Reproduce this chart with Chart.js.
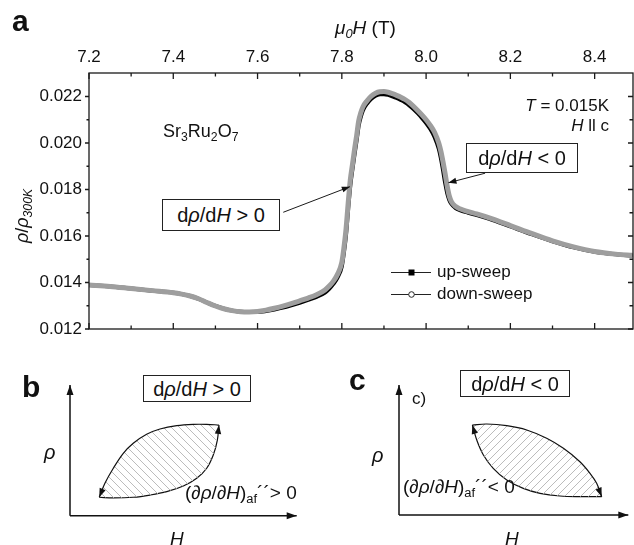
<!DOCTYPE html>
<html>
<head>
<meta charset="utf-8">
<script src="https://cdn.jsdelivr.net/npm/chart.js@4.4.0/dist/chart.umd.min.js"></script>
<style>
  body { margin: 0; background: #fff; }
  #wrap { position: relative; width: 634px; height: 545px; overflow: hidden;
          font-family: 'Liberation Sans', Arial, sans-serif; color: #111; }
  canvas { position: absolute; }
  .t { position: absolute; white-space: nowrap; line-height: 1; font-size: 17px; }
  .big { font-weight: bold; font-size: 30px; }
  .box { position: absolute; border: 1px solid #222; background: #fff; box-sizing: border-box;
         display: flex; align-items: center; justify-content: center; font-size: 20px; line-height: 1; }
  sub { font-size: 0.68em; vertical-align: -0.32em; line-height: 0; }
</style>
</head>
<body>
<div id="wrap">
  <canvas id="main" width="634" height="360" style="left:0;top:0"></canvas>
  <canvas id="panelB" width="317" height="185" style="left:0;top:360px"></canvas>
  <canvas id="panelC" width="317" height="185" style="left:317px;top:360px"></canvas>

  <div class="t big" style="left:12px;top:6px">a</div>
  <div class="t" style="left:335px;top:18px;font-size:19px"><i>μ</i><sub><i>0</i></sub><i>H</i> (T)</div>
  <div class="t" style="left:22px;top:216px;font-size:18px;transform:translate(-50%,-50%) rotate(-90deg)"><i>ρ</i>/<i>ρ</i><sub><i>300K</i></sub></div>
  <div class="t" style="left:163px;top:122px;font-size:18px">Sr<sub>3</sub>Ru<sub>2</sub>O<sub>7</sub></div>
  <div class="t" style="right:25px;top:97px"><i>T</i> = 0.015K</div>
  <div class="t" style="right:25px;top:117px"><i>H</i> ll c</div>
  <div class="box" style="left:466px;top:143px;width:112px;height:30px">d<i>ρ</i>/d<i>H</i>&nbsp;&lt; 0</div>
  <div class="box" style="left:162px;top:199px;width:118px;height:32px">d<i>ρ</i>/d<i>H</i>&nbsp;&gt; 0</div>
  <div class="t" style="left:437px;top:263px">up-sweep</div>
  <div class="t" style="left:437px;top:285px">down-sweep</div>

  <div class="t big" style="left:22px;top:372px">b</div>
  <div class="box" style="left:143px;top:375px;width:108px;height:27px">d<i>ρ</i>/d<i>H</i>&nbsp;&gt; 0</div>
  <div class="t" style="left:44px;top:442px;font-size:20px"><i>ρ</i></div>
  <div class="t" style="left:170px;top:529px;font-size:19px"><i>H</i></div>
  <div class="t" style="left:185px;top:483px;font-size:19px">(<i>∂ρ</i>/<i>∂H</i>)<sub>af</sub>´´&gt; 0</div>

  <div class="t big" style="left:349px;top:365px">c</div>
  <div class="t" style="left:412px;top:390px">c)</div>
  <div class="box" style="left:460px;top:370px;width:110px;height:27px">d<i>ρ</i>/d<i>H</i>&nbsp;&lt; 0</div>
  <div class="t" style="left:372px;top:445px;font-size:20px"><i>ρ</i></div>
  <div class="t" style="left:505px;top:529px;font-size:19px"><i>H</i></div>
  <div class="t" style="left:403px;top:477px;font-size:19px">(<i>∂ρ</i>/<i>∂H</i>)<sub>af</sub>´´&lt; 0</div>
</div>

<script>
// --- panel a data: field (T) and normalised resistivity ---
const downField = [7.20, 7.25, 7.30, 7.35, 7.40, 7.42, 7.44, 7.46, 7.48, 7.50,
  7.52, 7.54, 7.56, 7.58, 7.60, 7.62, 7.64, 7.66, 7.68, 7.70,
  7.72, 7.74, 7.76, 7.77, 7.78, 7.79, 7.80, 7.805, 7.81, 7.815,
  7.82, 7.825, 7.83, 7.835, 7.84, 7.845, 7.85, 7.86, 7.87, 7.88,
  7.89, 7.90, 7.91, 7.92, 7.93, 7.94, 7.95, 7.96, 7.97, 7.98,
  7.99, 8.00, 8.01, 8.02, 8.03, 8.035, 8.04, 8.045, 8.05, 8.055,
  8.06, 8.07, 8.08, 8.10, 8.12, 8.15, 8.20, 8.25, 8.30, 8.35,
  8.40, 8.45, 8.49];
const downRho = [0.01389, 0.01383, 0.01374, 0.01365, 0.01356, 0.01350, 0.01342, 0.01330, 0.01314, 0.01299,
  0.01287, 0.01279, 0.01274, 0.01273, 0.01275, 0.01281, 0.01289, 0.01298, 0.01309, 0.01321,
  0.01333, 0.01347, 0.01368, 0.01385, 0.01406, 0.01436, 0.01487, 0.01550, 0.01630, 0.01740,
  0.01840, 0.01905, 0.01970, 0.02030, 0.02095, 0.02130, 0.02155, 0.02182, 0.02202, 0.02214,
  0.02220, 0.02221, 0.02218, 0.02212, 0.02205, 0.02197, 0.02187, 0.02174, 0.02158, 0.02140,
  0.02121, 0.02100, 0.02076, 0.02046, 0.02000, 0.01965, 0.01920, 0.01870, 0.01815, 0.01772,
  0.01748, 0.01727, 0.01717, 0.01705, 0.01695, 0.01678, 0.01645, 0.01611, 0.01579, 0.01553,
  0.01533, 0.01522, 0.01517];
const upField = [7.20, 7.25, 7.30, 7.35, 7.40, 7.42, 7.44, 7.46, 7.48, 7.50,
  7.52, 7.54, 7.56, 7.58, 7.60, 7.62, 7.64, 7.66, 7.68, 7.70,
  7.72, 7.74, 7.76, 7.77, 7.78, 7.79, 7.80, 7.805, 7.81, 7.815,
  7.82, 7.825, 7.83, 7.835, 7.84, 7.845, 7.85, 7.86, 7.87, 7.88,
  7.89, 7.90, 7.91, 7.92, 7.93, 7.94, 7.95, 7.96, 7.97, 7.98,
  7.99, 8.00, 8.01, 8.02, 8.03, 8.035, 8.04, 8.045, 8.05, 8.055,
  8.06, 8.07, 8.08, 8.10, 8.12, 8.15, 8.20, 8.25, 8.30, 8.35,
  8.40, 8.45, 8.49];
const upRho = [0.01389, 0.01383, 0.01374, 0.01365, 0.01356, 0.01350, 0.01342, 0.01330, 0.01314, 0.01299,
  0.01287, 0.01279, 0.01274, 0.01273, 0.01273, 0.01277, 0.01284, 0.01292, 0.01302, 0.01313,
  0.01325, 0.01338, 0.01357, 0.01373, 0.01394, 0.01422, 0.01470, 0.01530, 0.01605, 0.01715,
  0.01815, 0.01885, 0.01950, 0.02010, 0.02075, 0.02112, 0.02140, 0.02170, 0.02190, 0.02203,
  0.02209, 0.02210, 0.02207, 0.02201, 0.02194, 0.02185, 0.02175, 0.02162, 0.02146, 0.02128,
  0.02108, 0.02086, 0.02060, 0.02026, 0.01975, 0.01935, 0.01885, 0.01830, 0.01785, 0.01755,
  0.01738, 0.01720, 0.01711, 0.01700, 0.01690, 0.01674, 0.01641, 0.01608, 0.01577, 0.01551,
  0.01532, 0.01521, 0.01516];
const fieldTicks = [7.2, 7.4, 7.6, 7.8, 8.0, 8.2, 8.4];
const rhoTicks = [0.012, 0.014, 0.016, 0.018, 0.020, 0.022];
// annotation arrows (data coords): tail near the box, tip on the curve
const arrowTails = [[7.661, 0.01702], [8.140, 0.01870]];
const arrowTips = [[7.819, 0.01812], [8.053, 0.01829]];

// --- panels b, c: schematic hysteresis loops (arbitrary units 0..10) ---
const axisUp = [[0, 0], [0, 10]];
const axisRight = [[0, 0], [10, 0]];
const loopBUpper = [[1.29, 1.41], [1.54, 2.48], [1.91, 3.63], [2.35, 4.77], [2.79, 5.54], [3.38, 6.23],
  [3.97, 6.63], [4.71, 6.89], [5.44, 6.99], [6.03, 6.99], [6.57, 6.94]];
const loopBLower = [[1.29, 1.41], [1.91, 1.36], [2.79, 1.41], [3.53, 1.58], [4.27, 1.84], [5.00, 2.27],
  [5.59, 2.86], [6.03, 3.63], [6.32, 4.64], [6.50, 5.79], [6.57, 6.94]];
const loopCUpper = [[3.20, 6.92], [3.82, 7.00], [4.70, 6.87], [5.57, 6.54], [6.44, 5.90], [7.17, 5.13],
  [7.89, 4.10], [8.33, 3.21], [8.62, 2.44], [8.84, 1.41]];
const loopCLower = [[3.20, 6.92], [3.39, 5.77], [3.68, 4.62], [4.11, 3.59], [4.70, 2.69], [5.42, 2.05],
  [6.15, 1.67], [7.02, 1.46], [7.89, 1.41], [8.84, 1.41]];

const FONT = "'Liberation Sans', Arial, sans-serif";
const toXY = (xs, ys) => xs.map((x, i) => ({ x, y: ys[i] }));
const pairs = arr => arr.map(([x, y]) => ({ x, y }));

function arrowHead(ctx, x, y, ang, len, half) {
  const c = Math.cos(ang), s = Math.sin(ang);
  ctx.beginPath();
  ctx.moveTo(x, y);
  ctx.lineTo(x - len * c + half * s, y - len * s - half * c);
  ctx.lineTo(x - len * c - half * s, y - len * s + half * c);
  ctx.closePath();
  ctx.fill();
}

// frame, inward ticks, annotation arrows and legend symbols for panel a
const framePlugin = {
  id: 'frame',
  afterDraw(chart) {
    const { ctx, chartArea: a } = chart;
    const xs = chart.scales.x, ys = chart.scales.y;
    ctx.save();
    ctx.strokeStyle = '#1a1a1a';
    ctx.lineWidth = 1.3;
    ctx.strokeRect(a.left, a.top, a.width, a.height);
    ctx.beginPath();
    for (let i = 0; i <= 12; i++) {
      const px = xs.getPixelForValue(7.2 + i * 0.1);
      const len = i % 2 === 0 ? 6 : 3.5;
      ctx.moveTo(px, a.top); ctx.lineTo(px, a.top + len);
      ctx.moveTo(px, a.bottom); ctx.lineTo(px, a.bottom - len);
    }
    for (let i = 0; i <= 10; i++) {
      const py = ys.getPixelForValue(0.012 + i * 0.001);
      const len = i % 2 === 0 ? 4 : 2.5;
      ctx.moveTo(a.left, py); ctx.lineTo(a.left - len, py);
      ctx.moveTo(a.right, py); ctx.lineTo(a.right - len - 1, py);
    }
    ctx.stroke();

    // arrows from the boxes to the curve
    ctx.lineWidth = 1;
    ctx.fillStyle = '#111';
    arrowTails.forEach((t, i) => {
      const x0 = xs.getPixelForValue(t[0]), y0 = ys.getPixelForValue(t[1]);
      const x1 = xs.getPixelForValue(arrowTips[i][0]), y1 = ys.getPixelForValue(arrowTips[i][1]);
      ctx.beginPath(); ctx.moveTo(x0, y0); ctx.lineTo(x1, y1); ctx.stroke();
      arrowHead(ctx, x1, y1, Math.atan2(y1 - y0, x1 - x0), 8, 3);
    });

    // legend symbols
    const lx0 = 391, lx1 = 431, mx = 411.5;
    ctx.strokeStyle = '#222';
    ctx.beginPath();
    ctx.moveTo(lx0, 272.5); ctx.lineTo(lx1, 272.5);
    ctx.moveTo(lx0, 294.5); ctx.lineTo(lx1, 294.5);
    ctx.stroke();
    ctx.fillStyle = '#000';
    ctx.fillRect(mx - 3, 272.5 - 3, 6, 6);
    ctx.fillStyle = '#fff';
    ctx.beginPath(); ctx.arc(mx, 294.5, 2.8, 0, Math.PI * 2); ctx.fill(); ctx.stroke();
    ctx.restore();
  }
};

new Chart(document.getElementById('main'), {
  type: 'line',
  data: {
    datasets: [
      { label: 'down-sweep', data: toXY(downField, downRho), borderColor: '#9e9e9e', borderWidth: 5,
        pointRadius: 0, cubicInterpolationMode: 'monotone', order: 0 },
      { label: 'up-sweep', data: toXY(upField, upRho), borderColor: '#000', borderWidth: 4,
        pointRadius: 0, cubicInterpolationMode: 'monotone', order: 1 }
    ]
  },
  options: {
    responsive: false,
    devicePixelRatio: 1,
    animation: false,
    layout: { padding: { top: 0, left: 0, right: 1, bottom: 31 } },
    plugins: { legend: { display: false }, tooltip: { enabled: false } },
    scales: {
      x: {
        type: 'linear', position: 'top', min: 7.2, max: 8.491,
        grid: { display: false, drawTicks: false }, border: { display: false },
        afterBuildTicks: s => { s.ticks = fieldTicks.map(v => ({ value: v })); },
        afterFit: s => { s.height = 73; },
        ticks: { padding: 5, color: '#111', font: { family: FONT, size: 17 }, callback: v => v.toFixed(1) }
      },
      y: {
        type: 'linear', min: 0.012, max: 0.02301,
        grid: { display: false, drawTicks: false }, border: { display: false },
        afterBuildTicks: s => { s.ticks = rhoTicks.map(v => ({ value: v })); },
        afterFit: s => { s.width = 89; },
        ticks: { padding: 7, color: '#111', font: { family: FONT, size: 17 }, callback: v => v.toFixed(3) }
      }
    }
  },
  plugins: [framePlugin]
});

// arrowheads at dataset ends for schematic panels
const arrowPlugin = {
  id: 'arrowEnds',
  afterDatasetsDraw(chart) {
    const ctx = chart.ctx;
    ctx.save();
    ctx.fillStyle = '#111';
    chart.data.datasets.forEach((ds, i) => {
      if (!ds.arrow) return;
      const pts = chart.getDatasetMeta(i).data;
      let p, q;
      if (ds.arrow === 'end') {
        p = pts[pts.length - 1];
        q = (p.cp1x !== undefined && Math.hypot(p.cp1x - p.x, p.cp1y - p.y) > 1) ? { x: p.cp1x, y: p.cp1y } : pts[pts.length - 2];
      } else {
        p = pts[0];
        q = (p.cp2x !== undefined && Math.hypot(p.cp2x - p.x, p.cp2y - p.y) > 1) ? { x: p.cp2x, y: p.cp2y } : pts[1];
      }
      const big = ds.axisLine;
      arrowHead(ctx, p.x, p.y, Math.atan2(p.y - q.y, p.x - q.x), big ? 10 : 9, big ? 3.5 : 3.2);
    });
    ctx.restore();
  }
};

function hatch(dir) {
  const s = 8;
  const c = document.createElement('canvas');
  c.width = s; c.height = s;
  const g = c.getContext('2d');
  g.strokeStyle = '#b4b4b4';
  g.lineWidth = 0.9;
  g.beginPath();
  for (const k of [-s, 0, s]) {
    if (dir === 'back') { g.moveTo(k, 0); g.lineTo(k + s, s); }
    else { g.moveTo(k, s); g.lineTo(k + s, 0); }
  }
  g.stroke();
  return g.createPattern(c, 'repeat');
}

function schematic(id, upper, lower, upperArrow, lowerArrow, dir, padding) {
  const cv = document.getElementById(id);
  new Chart(cv, {
    type: 'line',
    data: {
      datasets: [
        { data: pairs(axisUp), borderColor: '#111', borderWidth: 1.5, pointRadius: 0, arrow: 'end', axisLine: true, clip: false },
        { data: pairs(axisRight), borderColor: '#111', borderWidth: 1.5, pointRadius: 0, arrow: 'end', axisLine: true, clip: false },
        { data: pairs(upper), borderColor: '#111', borderWidth: 1.2, pointRadius: 0, tension: 0.35,
          fill: '+1', backgroundColor: hatch(dir), arrow: upperArrow, clip: false },
        { data: pairs(lower), borderColor: '#111', borderWidth: 1.2, pointRadius: 0, tension: 0.35,
          fill: false, arrow: lowerArrow, clip: false }
      ]
    },
    options: {
      responsive: false,
      devicePixelRatio: 1,
      animation: false,
      layout: { padding },
      plugins: { legend: { display: false }, tooltip: { enabled: false } },
      scales: {
        x: { type: 'linear', display: false, min: 0, max: 10 },
        y: { type: 'linear', display: false, min: 0, max: 10 }
      }
    },
    plugins: [arrowPlugin]
  });
}

schematic('panelB', loopBUpper, loopBLower, 'start', 'end', 'back',
  { left: 70, right: 20.3, top: 25, bottom: 29.3 });
schematic('panelC', loopCUpper, loopCLower, 'end', 'start', 'fwd',
  { left: 82, right: 5.7, top: 25, bottom: 30 });
</script>
</body>
</html>
